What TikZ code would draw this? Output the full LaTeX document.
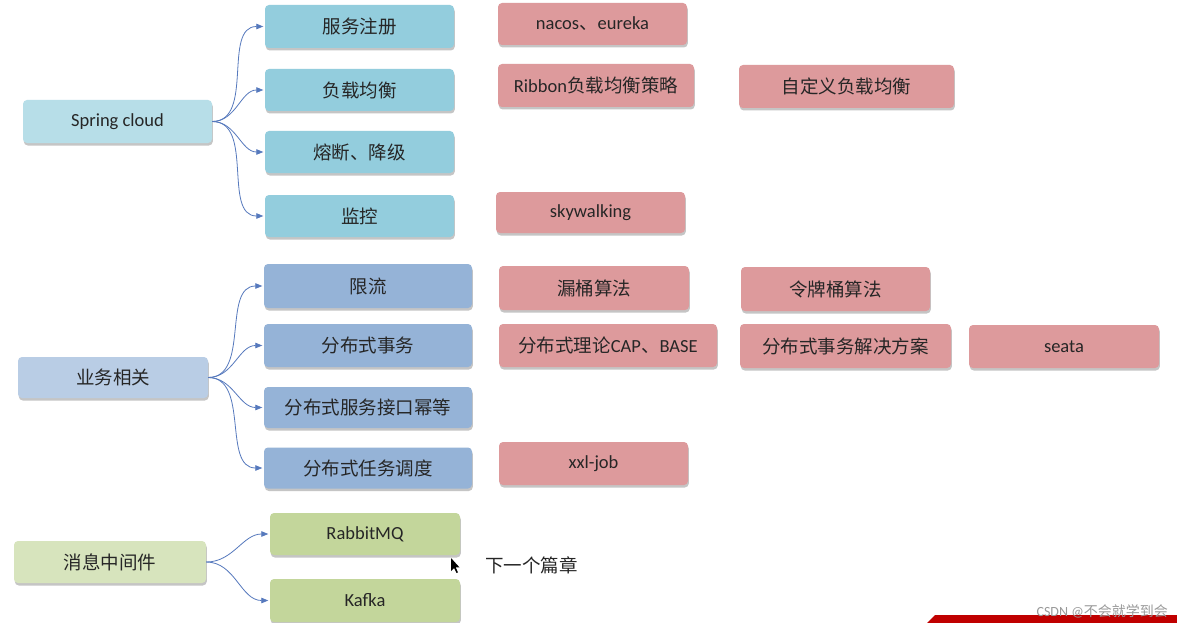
\documentclass[tikz,border=0pt]{standalone}
\usepackage{fontspec}
\setmainfont{Carlito}
\newfontfamily\cjk{Noto Sans CJK SC}
\usetikzlibrary{arrows.meta,shadows}
\definecolor{tealA}{HTML}{B7DEE8}
\definecolor{tealB}{HTML}{93CDDD}
\definecolor{blueA}{HTML}{B9CDE5}
\definecolor{blueB}{HTML}{95B3D7}
\definecolor{greenA}{HTML}{D7E4BD}
\definecolor{greenB}{HTML}{C3D69B}
\definecolor{pinkB}{HTML}{DD9A9C}
\definecolor{linkc}{HTML}{5679BD}
\definecolor{txt}{HTML}{262626}
\definecolor{barred}{HTML}{C00000}
\tikzset{
  box/.style={rounded corners=4pt, draw=none, text=txt, inner sep=0pt,
    font=\fontsize{18.5}{20}\selectfont,
    drop shadow={shadow xshift=0.8pt, shadow yshift=-2.5pt, opacity=0.3, fill=black!75}},
  teal0/.style={box, fill=tealA},
  teal1/.style={box, fill=tealB},
  blue0/.style={box, fill=blueA},
  blue1/.style={box, fill=blueB},
  green0/.style={box, fill=greenA},
  green1/.style={box, fill=greenB},
  pink1/.style={box, fill=pinkB},
  link/.style={draw=linkc, line width=0.8pt, -{Triangle[length=7pt,width=5.5pt]}, shorten >=1.5pt},
}
\begin{document}
\begin{tikzpicture}[x=1pt,y=-1pt]
\fill[white] (0,0) rectangle (1177,623);
\useasboundingbox (0,0) rectangle (1177,623);

% Spring cloud group
\node[teal0, minimum width=189pt, minimum height=43pt] (sc) at (117.5,121.5) {Spring cloud};
\node[teal1, minimum width=189pt, minimum height=43pt] (fw) at (359.5,26.5) {\cjk 服务注册};
\node[teal1, minimum width=189pt, minimum height=42pt] (fz) at (359.5,90) {\cjk 负载均衡};
\node[teal1, minimum width=189pt, minimum height=42pt] (rd) at (359.5,152) {\cjk 熔断、降级};
\node[teal1, minimum width=189pt, minimum height=42pt] (jk) at (359.5,216) {\cjk 监控};

\node[pink1, minimum width=189pt, minimum height=42pt] (nacos) at (592.5,24) {nacos{\cjk 、}eureka};
\node[pink1, minimum width=196pt, minimum height=43pt] (ribbon) at (596,85.5) {Ribbon{\cjk 负载均衡策略}};
\node[pink1, minimum width=215pt, minimum height=43pt] (zdy) at (846.5,86.5) {\cjk 自定义负载均衡};
\node[pink1, minimum width=189pt, minimum height=41pt] (sky) at (590.5,212.5) {skywalking};

% business group
\node[blue0, minimum width=190pt, minimum height=41pt] (yw) at (113,377.5) {\cjk 业务相关};
\node[blue1, minimum width=208pt, minimum height=44pt] (xl) at (368,286) {\cjk 限流};
\node[blue1, minimum width=208pt, minimum height=43pt] (sw) at (368,345.5) {\cjk 分布式事务};
\node[blue1, minimum width=208pt, minimum height=41pt] (my) at (368,407.5) {\cjk 分布式服务接口幂等};
\node[blue1, minimum width=208pt, minimum height=41pt] (rw) at (368,468) {\cjk 分布式任务调度};

\node[pink1, minimum width=190pt, minimum height=44pt] (lt) at (594,288) {\cjk 漏桶算法};
\node[pink1, minimum width=189pt, minimum height=44pt] (lp) at (835.5,289) {\cjk 令牌桶算法};
\node[pink1, minimum width=218pt, minimum height=43pt] (cap) at (608,345.5) {{\cjk 分布式理论}CAP{\cjk 、}BASE};
\node[pink1, minimum width=211pt, minimum height=44pt] (fa) at (845.5,346) {\cjk 分布式事务解决方案};
\node[pink1, minimum width=190pt, minimum height=43pt] (seata) at (1064,346.5) {seata};
\node[pink1, minimum width=189pt, minimum height=43pt] (xxl) at (593.5,463.5) {xxl-job};

% message middleware group
\node[green0, minimum width=192pt, minimum height=42pt] (mq) at (110,562) {\cjk 消息中间件};
\node[green1, minimum width=190pt, minimum height=42pt] (rabbit) at (365,534) {RabbitMQ};
\node[green1, minimum width=190pt, minimum height=43pt] (kafka) at (365,600.5) {Kafka};

\node[anchor=west, text=txt, inner sep=0pt, font=\fontsize{18.5}{20}\selectfont\cjk] (next) at (485,565) {下一个篇章};

% connectors
\foreach \t in {fw,fz,rd,jk} \draw[link] (sc.east) to[out=0,in=180] (\t.west);
\foreach \t in {xl,sw,my,rw} \draw[link] (yw.east) to[out=0,in=180] (\t.west);
\foreach \t in {rabbit,kafka} \draw[link] (mq.east) to[out=0,in=180] (\t.west);

% mouse pointer
\fill[black] (451,558) -- (451,571) -- (454,568) -- (456.5,573) -- (458,572.3) -- (455.6,567.4) -- (459.5,567.4) -- cycle;

% bottom-right bar and watermark
\fill[barred] (927,623) -- (935,615) -- (1177,615) -- (1177,623) -- cycle;
\node[anchor=east, inner sep=0pt, text=black!40, font=\fontsize{14}{15}\selectfont] (wm) at (1168,611) {CSDN @{\cjk 不会就学到会}};
\end{tikzpicture}
\end{document}
